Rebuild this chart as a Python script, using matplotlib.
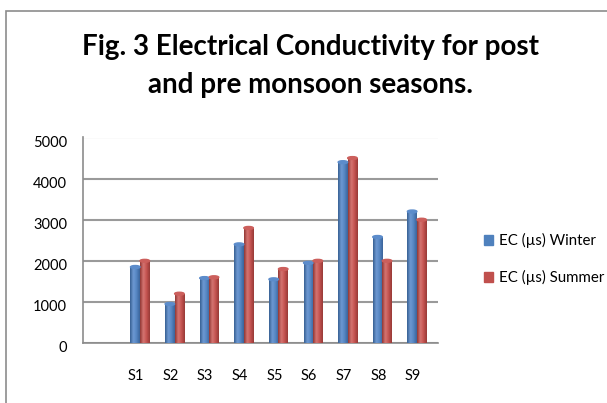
import numpy as np
import matplotlib.pyplot as plt
import matplotlib.transforms as mtransforms
from matplotlib.colors import LinearSegmentedColormap
from matplotlib.patches import Ellipse, Rectangle, Patch

plt.rcParams['font.family'] = ['Lato', 'DejaVu Sans']

sites = ['S1', 'S2', 'S3', 'S4', 'S5', 'S6', 'S7', 'S8', 'S9']
winter = [1850, 950, 1580, 2400, 1550, 1950, 4400, 2580, 3200]
summer = [2000, 1200, 1600, 2800, 1800, 2000, 4500, 2000, 3000]
series_names = ['EC (\u00b5s) Winter', 'EC (\u00b5s) Summer']
yticks = [0, 1000, 2000, 3000, 4000, 5000]
title = 'Fig. 3 Electrical Conductivity for post\nand pre monsoon seasons.'

W, H = 607, 403
BLUE = '#4f81bd'
RED = '#c0504d'
blue_cmap = LinearSegmentedColormap.from_list(
    'b', ['#355d90', '#6f9ad3', '#5585c2', '#3a6399'])
red_cmap = LinearSegmentedColormap.from_list(
    'r', ['#8f3532', '#d67673', '#c4524f', '#963a37'])


def shade(ax, bars, cmap, top_color):
    """Fake the Excel cylinder look with a gradient clipped to each bar."""
    grad = np.linspace(0, 1, 64).reshape(1, -1)
    for b in bars:
        x0, y0 = b.get_x(), b.get_y()
        w, h = b.get_width(), b.get_height()
        im = ax.imshow(grad, cmap=cmap, extent=(x0, x0 + w, y0, y0 + h),
                       aspect='auto', zorder=3, interpolation='bicubic')
        im.set_clip_path(b)
        b.set_facecolor('none')
        ax.add_patch(Ellipse((x0 + w / 2, y0 + h), w, 70, color=top_color, zorder=4))


fig = plt.figure(figsize=(W / 100, H / 100), dpi=100)
fig.patches.append(Rectangle((6 / W, -0.1), 1.2, 1 - 11 / H + 0.1, transform=fig.transFigure,
                             fill=False, edgecolor='#8c8c8c', linewidth=1.2))

# plot area in pixels: left 83, right 438, zero at 343, 5000 at 137.5
ax = fig.add_axes([83 / W, 1 - 343 / H, (438 - 83) / W, (343 - 137.5) / H])
x = np.arange(len(sites))
bw = 0.275
b1 = ax.bar(x - bw / 2, winter, bw, color=BLUE, zorder=3, linewidth=0)
b2 = ax.bar(x + bw / 2, summer, bw, color=RED, zorder=3, linewidth=0)
shade(ax, b1, blue_cmap, '#5c8ccb')
shade(ax, b2, red_cmap, '#cc5f5c')

ax.set_xlim(-1.647, 8.61)
ax.set_ylim(0, 5000)
ax.set_yticks(yticks)
ax.set_xticks(x)
ax.set_xticklabels(sites)
ax.yaxis.grid(True, color='#9a9a9a', linewidth=1.5, zorder=0)
ax.set_axisbelow(True)
for s in ['top', 'right']:
    ax.spines[s].set_visible(False)
for s in ['left', 'bottom']:
    ax.spines[s].set_color('#8c8c8c')
    ax.spines[s].set_linewidth(1.2)
ax.tick_params(axis='y', length=0, pad=11.5, labelsize=10.5)
ax.tick_params(axis='x', length=0, pad=19, labelsize=10.5)

# labels sit a little off the bars in the 3D original
for lab in ax.get_xticklabels():
    lab.set_transform(lab.get_transform() + mtransforms.ScaledTranslation(-4 / 100, 0, fig.dpi_scale_trans))
for lab in ax.get_yticklabels():
    lab.set_transform(lab.get_transform() + mtransforms.ScaledTranslation(0, -4 / 100, fig.dpi_scale_trans))

fig.text(310 / W, 1 - 66 / H, title, ha='center', va='center', fontsize=20,
         fontweight='bold', linespacing=1.6)

handles = [Patch(color=BLUE), Patch(color=RED)]
fig.legend(handles, series_names, loc='center left', bbox_to_anchor=(470 / W, 1 - 259 / H),
           frameon=False, fontsize=10.8, handlelength=0.65, handleheight=0.65,
           handletextpad=0.4, labelspacing=1.45)

fig.savefig('out.png', dpi=100)
